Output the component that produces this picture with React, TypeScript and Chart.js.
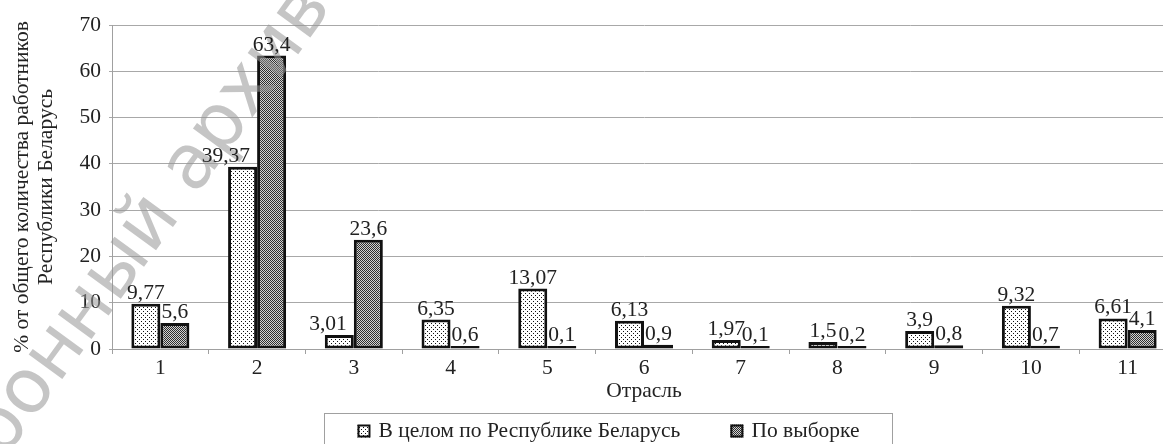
import React, { useEffect, useRef } from 'react';
import { Chart, registerables } from 'chart.js';

Chart.register(...registerables);

const categories = ['1', '2', '3', '4', '5', '6', '7', '8', '9', '10', '11'];
const seriesNames = ['В целом по Республике Беларусь', 'По выборке'];
const belarusValues = [9.77, 39.37, 3.01, 6.35, 13.07, 6.13, 1.97, 1.5, 3.9, 9.32, 6.61];
const sampleValues = [5.6, 63.4, 23.6, 0.6, 0.1, 0.9, 0.1, 0.2, 0.8, 0.7, 4.1];
const yMin = 0;
const yMax = 70;
const yStep = 10;
const yTitle = ['% от общего количества работников', 'Республики Беларусь'];
const xTitle = 'Отрасль';
const watermarkText = 'Электронный архив';
const watermarkHidden = 'Элект';
const watermarkVisible = 'ронный архив';

const SERIF = '"Liberation Serif", "Times New Roman", serif';
const FS = 21.5;

function makeDotPattern(): CanvasPattern | string {
  const c = document.createElement('canvas');
  c.width = 4;
  c.height = 4;
  const g = c.getContext('2d');
  if (!g) return '#fff';
  g.fillStyle = '#ffffff';
  g.fillRect(0, 0, 4, 4);
  g.fillStyle = '#111111';
  g.fillRect(1, 1, 1, 1);
  g.fillRect(3, 3, 1, 1);
  const p = g.createPattern(c, 'repeat');
  return p || '#fff';
}

function makeDensePattern(): CanvasPattern | string {
  const c = document.createElement('canvas');
  c.width = 2;
  c.height = 2;
  const g = c.getContext('2d');
  if (!g) return '#777';
  g.fillStyle = '#d2d2d2';
  g.fillRect(0, 0, 2, 2);
  g.fillStyle = '#2e2e2e';
  g.fillRect(0, 0, 1, 1);
  g.fillRect(1, 1, 1, 1);
  const p = g.createPattern(c, 'repeat');
  return p || '#777';
}

const fmt = (v: number) => String(v).replace('.', ',');

const valueLabelsPlugin = {
  id: 'valueLabels',
  afterDraw(chart: any) {
    const ctx = chart.ctx;
    ctx.save();
    ctx.font = `${FS}px ${SERIF}`;
    ctx.fillStyle = '#222';
    ctx.textBaseline = 'alphabetic';
    const metas = chart.data.datasets.map((_: any, di: number) => chart.getDatasetMeta(di));
    chart.data.datasets.forEach((ds: any, di: number) => {
      const meta = metas[di];
      meta.data.forEach((el: any, i: number) => {
        const text = fmt(ds.data[i]);
        const w = ctx.measureText(text).width;
        const baseY = el.y - 5;
        let left = el.x - w / 2;
        // if the label would run into the taller neighbouring bar on the right, pull it left
        const next = metas[di + 1] ? metas[di + 1].data[i] : null;
        if (next) {
          const nextLeft = next.x - next.width / 2;
          if (left + w > nextLeft && next.y < baseY) {
            left = el.x + el.width / 2 - 7 - w;
          }
        }
        ctx.textAlign = 'left';
        ctx.fillText(text, left, baseY);
      });
    });
    ctx.restore();
  },
};

const legendPlugin = {
  id: 'boxLegend',
  afterDraw(chart: any) {
    const ctx = chart.ctx;
    ctx.save();
    ctx.font = `${FS}px ${SERIF}`;
    const datasets = chart.data.datasets;
    const iconSize = 13;
    const iconGap = 8;
    const itemGap = 50;
    let total = 0;
    const widths = datasets.map((d: any) => ctx.measureText(d.label).width);
    widths.forEach((w: number, i: number) => {
      total += iconSize + iconGap + w + (i < widths.length - 1 ? itemGap : 0);
    });
    const boxLeft = 324.5;
    const boxRight = 892.5;
    const boxTop = 413.5;
    const midY = 431;
    ctx.strokeStyle = '#a0a0a0';
    ctx.lineWidth = 1;
    ctx.strokeRect(boxLeft, boxTop, boxRight - boxLeft, 60);
    let x = (boxLeft + boxRight) / 2 - total / 2;
    datasets.forEach((d: any, i: number) => {
      ctx.fillStyle = d.backgroundColor;
      ctx.fillRect(x, midY - iconSize / 2, iconSize, iconSize);
      ctx.strokeStyle = '#111';
      ctx.lineWidth = 2;
      ctx.strokeRect(x + 1, midY - iconSize / 2 + 1, iconSize - 2, iconSize - 2);
      ctx.fillStyle = '#222';
      ctx.textAlign = 'left';
      ctx.textBaseline = 'middle';
      ctx.fillText(d.label, x + iconSize + iconGap, midY);
      x += iconSize + iconGap + widths[i] + itemGap;
    });
    ctx.restore();
  },
};

const watermarkPlugin = {
  id: 'watermark',
  afterDatasetsDraw(chart: any) {
    const ctx = chart.ctx;
    ctx.save();
    const size = 76;
    ctx.font = `${size}px "DejaVu Sans", sans-serif`;
    ctx.fillStyle = 'rgba(150,150,150,0.55)';
    ctx.textBaseline = 'alphabetic';
    ctx.textAlign = 'left';
    const theta = (-54 * Math.PI) / 180;
    const cos = Math.cos(theta);
    const sin = Math.sin(theta);
    const wh = ctx.measureText(watermarkHidden).width;
    const wv = ctx.measureText(watermarkVisible).width;
    const lx = wh + wv / 2;
    const ly = -0.27 * size;
    const cx = 151;
    const cy = 222;
    const tx = cx - (lx * cos - ly * sin);
    const ty = cy - (lx * sin + ly * cos);
    ctx.translate(tx, ty);
    ctx.rotate(theta);
    ctx.fillText(watermarkText, 0, 0);
    ctx.restore();
  },
};

export default function App() {
  const ref = useRef<HTMLCanvasElement | null>(null);

  useEffect(() => {
    const canvas = ref.current;
    if (!canvas) return;
    const dots = makeDotPattern();
    const dense = makeDensePattern();
    const chart = new Chart(canvas, {
      type: 'bar',
      data: {
        labels: categories,
        datasets: [
          {
            label: seriesNames[0],
            data: belarusValues,
            backgroundColor: dots as any,
            borderColor: '#111',
            borderWidth: 3,
            borderSkipped: false,
            categoryPercentage: 0.6,
            barPercentage: 1.0,
            minBarLength: 3,
          },
          {
            label: seriesNames[1],
            data: sampleValues,
            backgroundColor: dense as any,
            borderColor: '#111',
            borderWidth: 3,
            borderSkipped: false,
            categoryPercentage: 0.6,
            barPercentage: 1.0,
            minBarLength: 3,
          },
        ],
      },
      options: {
        responsive: false,
        animation: false,
        devicePixelRatio: 1,
        layout: { padding: { top: 25, right: 4, bottom: 30, left: 0 } },
        plugins: {
          legend: { display: false },
          tooltip: { enabled: false },
          title: { display: false },
        },
        scales: {
          x: {
            grid: {
              display: true,
              drawOnChartArea: false,
              drawTicks: true,
              tickLength: 5,
              color: '#a0a0a0',
              offset: true,
            },
            border: { display: true, color: '#a0a0a0' },
            ticks: {
              color: '#222',
              font: { family: SERIF, size: FS },
              padding: 1,
              maxRotation: 0,
              autoSkip: false,
            },
            title: {
              display: true,
              text: xTitle,
              color: '#222',
              font: { family: SERIF, size: FS, lineHeight: 1.2 },
              padding: { top: 0, bottom: 10 },
            },
            afterFit(scale: any) {
              scale.height = 65;
            },
          },
          y: {
            min: yMin,
            max: yMax,
            ticks: {
              stepSize: yStep,
              color: '#222',
              font: { family: SERIF, size: FS },
              padding: 8,
            },
            grid: { color: '#a8a8a8', tickLength: 3, drawTicks: true },
            border: { display: true, color: '#a0a0a0' },
            title: {
              display: true,
              text: yTitle,
              color: '#222',
              font: { family: SERIF, size: FS, lineHeight: 1.12 },
              padding: { top: 10, bottom: 0 },
            },
            afterFit(scale: any) {
              scale.width = 112;
            },
          },
        },
      },
      plugins: [watermarkPlugin, valueLabelsPlugin, legendPlugin],
    });
    return () => chart.destroy();
  }, []);

  return (
    <div
      style={{
        position: 'fixed',
        left: 0,
        top: 0,
        width: 1163,
        height: 444,
        overflow: 'hidden',
        background: '#fff',
      }}
    >
      <canvas ref={ref} width={1180} height={444} style={{ width: 1180, height: 444, display: 'block' }} />
    </div>
  );
}
